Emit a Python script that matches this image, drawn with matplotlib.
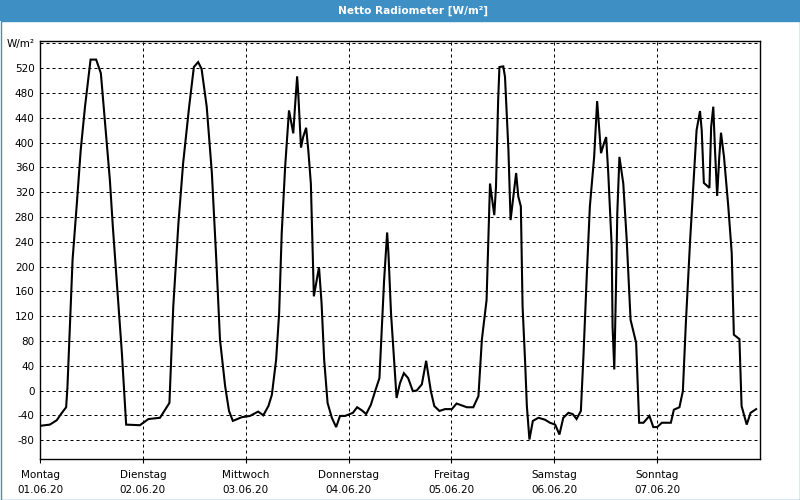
import matplotlib
matplotlib.use('Agg')
import matplotlib.pyplot as plt
from matplotlib.patches import Rectangle

# hours since Montag 01.06.20 00:00
hours = [
    0.0, 2.3, 3.9, 5.1, 6.1, 6.4, 7.0, 7.6, 8.6, 9.5, 10.5, 11.8, 13.1, 14.2, 15.2, 16.3,
    17.0, 18.0, 19.1, 20.1, 23.3, 25.3, 28.0, 30.2, 31.1, 32.3, 33.4, 34.8, 35.9, 36.9,
    37.7, 38.9, 40.1, 41.1, 42.0, 43.2, 44.1, 45.0, 47.1, 49.0, 50.9, 52.1, 53.3, 54.1,
    55.1, 55.8, 56.4, 57.2, 58.1, 58.6, 59.1, 59.5, 60.0, 60.3, 60.9, 61.4, 62.1, 62.6,
    63.2, 63.5, 63.9, 64.6, 65.1, 65.7, 66.3, 67.1, 68.1, 69.1, 70.0, 71.2, 71.9, 73.0,
    74.0, 75.1, 76.1, 77.2, 78.2, 79.2, 79.7, 80.3, 81.0, 81.3, 81.9, 82.6, 83.2, 84.0,
    84.9, 85.9, 87.0, 87.9, 89.1, 90.1, 91.2, 92.0, 93.2, 94.5, 96.1, 97.2, 98.4, 99.6,
    101.1, 102.3, 103.1, 104.2, 105.0, 106.0, 106.4, 106.9, 107.2, 108.1, 108.5, 109.3,
    109.8, 110.6, 111.1, 111.6, 112.2, 112.6, 113.2, 113.6, 114.2, 115.0, 116.3, 117.8,
    119.0, 120.2, 121.2, 122.1, 123.3, 124.3, 125.2, 126.2, 126.8, 127.6, 128.3, 129.3,
    130.0, 130.9, 131.6, 132.1, 132.6, 133.4, 133.6, 134.0, 134.4, 134.7, 135.2, 136.1,
    136.9, 137.8, 139.1, 139.8, 140.8, 142.2, 143.1, 144.0, 145.1, 147.2, 147.9, 149.2,
    150.0, 150.7, 151.7, 152.6, 153.2, 154.0, 154.4, 154.9, 156.2, 156.6, 157.1, 157.5,
    158.0, 158.5, 158.9, 159.6, 160.6, 161.4, 161.9, 163.2, 163.7, 164.9, 165.8, 167.1,
]
values = [
    -57, -55, -48, -36, -27, 5, 109, 211, 302, 388, 458, 534, 534, 512, 431, 340,
    264, 168, 61, -55, -56, -46, -44, -20, 136, 270, 367, 458, 522, 530,
    519, 458, 351, 216, 82, 7, -33, -49, -43, -41, -34, -40, -25, -7,
    50, 125, 254, 361, 452, 433, 415, 458, 507, 474, 392, 409, 424, 388,
    334, 254, 152, 179, 199, 141, 50, -20, -44, -59, -41, -41, -39, -36,
    -27, -32, -38, -23, -1, 20, 93, 179, 255, 222, 125, 50, -12, 12,
    28, 20, -1, 0, 10, 48, -1, -25, -33, -30, -30, -21, -24, -27,
    -27, -9, 82, 146, 334, 283, 329, 468, 522, 523, 506, 388,
    275, 321, 351, 313, 297, 136, 45, -25, -79, -49, -44, -47,
    -52, -55, -71, -44, -36, -38, -46, -33, 55, 189, 297, 377,
    467, 383, 399, 409, 350, 232, 103, 34, 168, 286, 377, 334,
    243, 114, 77, -52, -52, -41, -59, -59, -52, -52, -31, -27,
    -1, 109, 243, 350, 420, 451, 420, 335, 327, 425, 458, 388,
    314, 377, 416, 377, 297, 222, 90, 83, -25, -55, -36, -30,
]

day_names = ['Montag', 'Dienstag', 'Mittwoch', 'Donnerstag', 'Freitag', 'Samstag', 'Sonntag']
day_dates = ['01.06.20', '02.06.20', '03.06.20', '04.06.20', '05.06.20', '06.06.20', '07.06.20']
y_ticks = list(range(-80, 521, 40))

BLUE = '#3d8fc4'

plt.rcParams['font.family'] = ['DejaVu Sans']
fig = plt.figure(figsize=(8, 5), dpi=100, facecolor='white')

# title bar and window border
fig.patches.append(Rectangle((0, 1 - 21 / 500), 1, 21 / 500, transform=fig.transFigure,
                             facecolor=BLUE, edgecolor='none', zorder=0))
fig.patches.append(Rectangle((0.5 / 800, 0.5 / 500), 799 / 800, 1 - 21 / 500, transform=fig.transFigure,
                             facecolor='none', edgecolor=BLUE, linewidth=1.0, zorder=0))
fig.text(413 / 800, 1 - 10.5 / 500, 'Netto Radiometer [W/m²]', color='white', fontsize=7.6,
         fontweight='bold', ha='center', va='center')

ax = fig.add_axes([40 / 800, 41 / 500, 720 / 800, 418 / 500])
ax.plot(hours, values, color='black', linewidth=1.5, solid_joinstyle='miter', zorder=3)

ax.set_xlim(0, 168)
ax.set_ylim(-110.5, 564)

ax.set_yticks(y_ticks + [560])
ax.set_yticklabels([str(v) for v in y_ticks] + ['W/m²'])
ax.set_xticks([24 * i for i in range(7)])
ax.set_xticklabels([f'{n}\n{d}' for n, d in zip(day_names, day_dates)], linespacing=1.55)

ax.tick_params(axis='y', length=0, pad=4, labelsize=7.5, colors='black')
ax.tick_params(axis='x', length=3, width=0.8, pad=5, labelsize=7.5, colors='black')

ax.grid(True, color='black', linestyle=(0, (3, 3)), linewidth=0.72)
for spine in ax.spines.values():
    spine.set_color('black')
    spine.set_linewidth(1.0)

fig.savefig('out.png', dpi=100, facecolor=fig.get_facecolor())
